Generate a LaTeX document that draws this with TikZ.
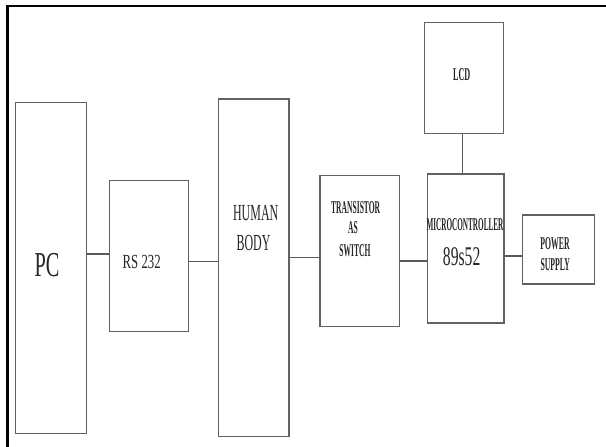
\documentclass[tikz,border=0pt]{standalone}
\usepackage{graphicx}
\usepackage{fontspec}
\setmainfont{Liberation Serif}
\tikzset{
  box/.style={draw=black!62, line width=1.3pt, inner sep=0pt, anchor=north west, fill=white},
  wire/.style={draw=black!65, line width=1.5pt},
  lbl/.style={anchor=base, inner sep=0pt, text=black!85},
}
\newcommand{\rt}[3]{{\fontsize{#1}{#1}\selectfont\scalebox{#2}[1]{#3}}}
\newcommand{\bt}[3]{{\fontsize{#1}{#1}\selectfont\bfseries\scalebox{#2}[1]{#3}}}
\begin{document}
\begin{tikzpicture}[x=1pt,y=-1pt]
\useasboundingbox[fill=white] (0,0) rectangle (606,447);
% outer frame (only top and left visible)
\draw[line width=2.6pt, black] (7.5,447) -- (7.5,6) -- (606,6);

% boxes
\node[box, minimum width=70.7pt, minimum height=331pt] (pc) at (15,102) {};
\node[box, minimum width=79pt, minimum height=151pt] (rs) at (109,180) {};
\node[box, minimum width=70.6pt, minimum height=337.7pt] (hb) at (217.7,98.3) {};
\node[box, minimum width=79.7pt, minimum height=150.7pt] (tr) at (319.3,175) {};
\node[box, minimum width=76.6pt, minimum height=149pt] (mc) at (426.7,173.3) {};
\node[box, minimum width=72.3pt, minimum height=69pt] (ps) at (521.7,214.3) {};
\node[box, minimum width=78.7pt, minimum height=111pt] (lcd) at (424,21.7) {};

% connectors
\draw[wire] (pc.east |- 0,254) -- (rs.west |- 0,254);
\draw[wire] (rs.east |- 0,261.5) -- (hb.west |- 0,261.5);
\draw[wire] (hb.east |- 0,257.7) -- (tr.west |- 0,257.7);
\draw[wire] (tr.east |- 0,261) -- (mc.west |- 0,261);
\draw[wire] (mc.east |- 0,256) -- (ps.west |- 0,256);
\draw[wire] (lcd.south -| 462.3,0) -- (mc.north -| 462.3,0);

% labels
\node[lbl] (tpc) at (47,276.7) {\rt{35}{0.58}{PC}};
\node[lbl] (trs) at (141.7,268) {\rt{20}{0.64}{RS 232}};
\node[lbl] (thb1) at (255.7,220) {\rt{23}{0.52}{HUMAN}};
\node[lbl] (thb2) at (253.5,250) {\rt{23}{0.52}{BODY}};
\node[lbl] (ttr1) at (355.7,213) {\bt{18}{0.42}{TRANSISTOR}};
\node[lbl] (ttr2) at (353,233.3) {\bt{18}{0.42}{AS}};
\node[lbl] (ttr3) at (355,256.7) {\bt{18}{0.42}{SWITCH}};
\node[lbl] (tmc1) at (465,230) {\bt{18}{0.40}{MICROCONTROLLER}};
\node[lbl] (tmc2) at (461.7,265) {\rt{27}{0.58}{89s52}};
\node[lbl] (tps1) at (555,249) {\bt{18}{0.43}{POWER}};
\node[lbl] (tps2) at (555.3,270) {\bt{18}{0.43}{SUPPLY}};
\node[lbl] (tlcd) at (461.7,80) {\bt{18}{0.45}{LCD}};
\end{tikzpicture}
\end{document}
